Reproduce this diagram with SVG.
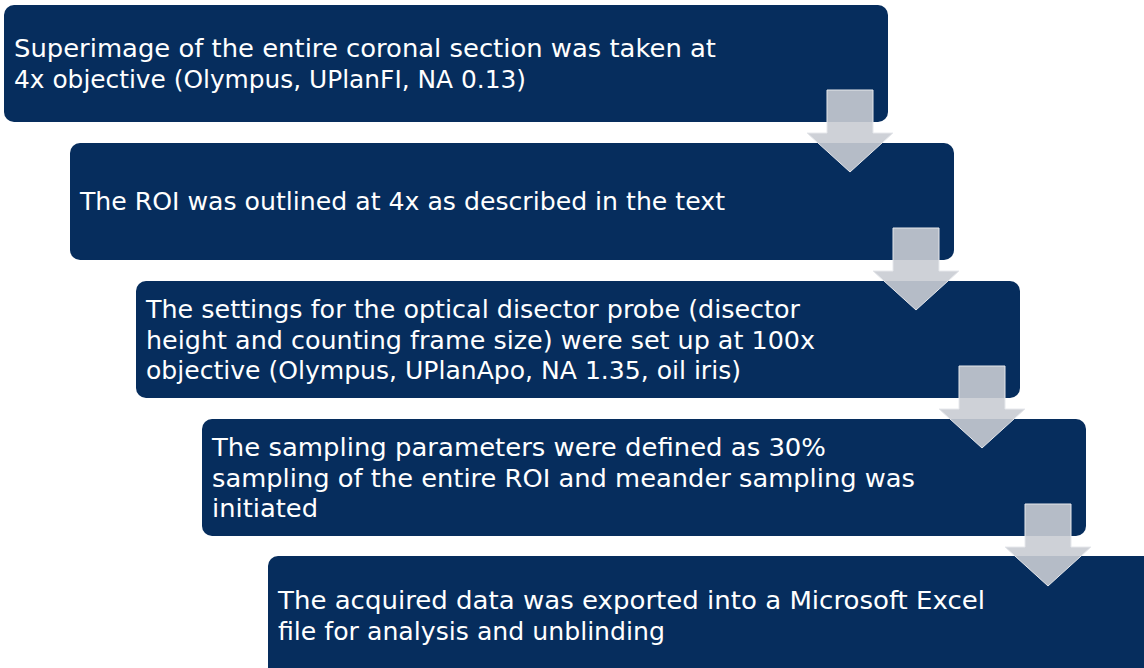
<svg xmlns="http://www.w3.org/2000/svg" width="1144" height="668" viewBox="0 0 1144 668">
<style>
.box{fill:#062D5D;}
.t{font-family:"DejaVu Sans","Liberation Sans",sans-serif;font-size:25px;fill:#FFFFFF;}
.arrow{fill:#C9CCD3;fill-opacity:0.9;stroke:#E6E8EC;stroke-width:1;}
</style>
<rect width="1144" height="668" fill="#FFFFFF"/>
<g id="step1">
<rect class="box" x="4" y="5" width="884" height="117" rx="10"/>
<text class="t" x="14" y="57" textLength="702" lengthAdjust="spacingAndGlyphs">Superimage of the entire coronal section was taken at</text>
<text class="t" x="14" y="88" textLength="512" lengthAdjust="spacingAndGlyphs">4x objective (Olympus, UPlanFI, NA 0.13)</text>
</g>
<g id="step2">
<rect class="box" x="70" y="143" width="884" height="117" rx="10"/>
<text class="t" x="80" y="210" textLength="645" lengthAdjust="spacingAndGlyphs">The ROI was outlined at 4x as described in the text</text>
</g>
<g id="step3">
<rect class="box" x="136" y="281" width="884" height="117" rx="10"/>
<text class="t" x="146" y="318" textLength="654" lengthAdjust="spacingAndGlyphs">The settings for the optical disector probe (disector</text>
<text class="t" x="146" y="349" textLength="669" lengthAdjust="spacingAndGlyphs">height and counting frame size) were set up at 100x</text>
<text class="t" x="146" y="379" textLength="595" lengthAdjust="spacingAndGlyphs">objective (Olympus, UPlanApo, NA 1.35, oil iris)</text>
</g>
<g id="step4">
<rect class="box" x="202" y="419" width="884" height="117" rx="10"/>
<text class="t" x="212" y="456" textLength="614" lengthAdjust="spacingAndGlyphs">The sampling parameters were defined as 30%</text>
<text class="t" x="212" y="487" textLength="703" lengthAdjust="spacingAndGlyphs">sampling of the entire ROI and meander sampling was</text>
<text class="t" x="212" y="517" textLength="106" lengthAdjust="spacingAndGlyphs">initiated</text>
</g>
<g id="step5">
<rect class="box" x="268" y="556" width="890" height="130" rx="10"/>
<text class="t" x="278" y="609" textLength="707" lengthAdjust="spacingAndGlyphs">The acquired data was exported into a Microsoft Excel</text>
<text class="t" x="278" y="640" textLength="387" lengthAdjust="spacingAndGlyphs">file for analysis and unblinding</text>
</g>
<g id="connectors">
<path class="arrow" d="M827,90 H873 V133 H893 L850,172 L807,133 H827 Z"/>
<path class="arrow" d="M893,228 H939 V271 H959 L916,310 L873,271 H893 Z"/>
<path class="arrow" d="M959,366 H1005 V409 H1025 L982,448 L939,409 H959 Z"/>
<path class="arrow" d="M1025,504 H1071 V547 H1091 L1048,586 L1005,547 H1025 Z"/>
</g>
</svg>
